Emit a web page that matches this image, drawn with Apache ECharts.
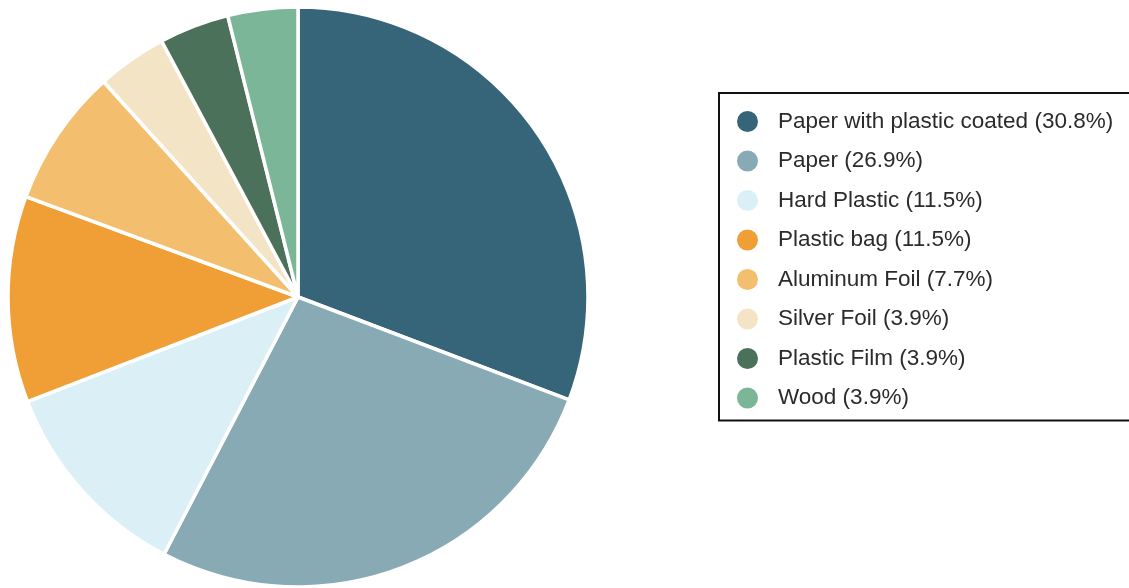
<!DOCTYPE html>
<html><head><meta charset="utf-8">
<script src="https://cdn.jsdelivr.net/npm/echarts@6/dist/echarts.min.js"></script>
<style>html,body{margin:0;padding:0;background:#fff}#c{width:1129px;height:588px}</style>
</head><body><div id="c"></div>
<script>
const categories = ["Paper with plastic coated","Paper","Hard Plastic","Plastic bag","Aluminum Foil","Silver Foil","Plastic Film","Wood"];
const percents = [30.8, 26.9, 11.5, 11.5, 7.7, 3.9, 3.9, 3.9];
const colors = ["#366479","#88aab5","#dbf0f6","#f09f36","#f3bf6e","#f4e4c6","#4b715b","#7cb698"];

const chart = echarts.init(document.getElementById('c'), null, {renderer:'canvas'});
chart.setOption({
  animation:false,
  color: colors,
  legend: {
    orient:'vertical', left:719, top:93,
    icon:'circle', itemWidth:23, itemHeight:23, itemGap:14.5,
    borderColor:'#111', borderWidth:2, borderRadius:0,
    padding:[16,20,10,16],
    textStyle:{fontFamily:'Liberation Sans, Arial, sans-serif', fontSize:22.5, lineHeight:23, color:'#2b2b2b', padding:[0,0,0,14]},
    formatter: name => name + ' (' + percents[categories.indexOf(name)].toFixed(1) + '%)',
    data: categories
  },
  series:[{
    type:'pie', center:[298,297], radius:[0,290], startAngle:90, clockwise:true,
    label:{show:false}, labelLine:{show:false},
    itemStyle:{borderColor:'#fff', borderWidth:3.5},
    emphasis:{disabled:true},
    data: categories.map((c,i)=>({name:c, value:percents[i]}))
  }]
});
</script></body></html>
